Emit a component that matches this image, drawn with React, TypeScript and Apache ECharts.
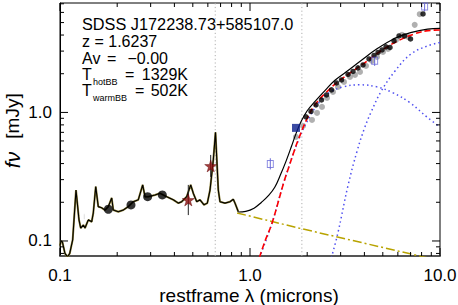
import React, { useEffect, useRef } from 'react';
import * as echarts from 'echarts';

const FONT = '"Liberation Sans", Arial, Helvetica, sans-serif';
const X_MIN = 0.1;
const X_MAX = 10;
const Y_MIN = 0.0764;
const Y_MAX = 7.1;

const X_MAJOR = [0.1, 1, 10];
const X_LABELS = ['0.1', '1.0', '10.0'];
const X_MINOR = [0.2, 0.3, 0.4, 0.5, 0.6, 0.7, 0.8, 0.9, 2, 3, 4, 5, 6, 7, 8, 9];
const Y_MAJOR = [0.1, 1];
const Y_LABELS = ['0.1', '1.0'];
const Y_MINOR = [0.08, 0.09, 0.2, 0.3, 0.4, 0.5, 0.6, 0.7, 0.8, 0.9, 2, 3, 4, 5, 6, 7];

// restframe spectrum (lambda [micron], f_nu [mJy])
const SPECTRUM = [
  [0.1, 0.092], [0.1012, 0.1], [0.103, 0.098], [0.1062, 0.08], [0.1095, 0.0752], [0.1125, 0.08],
  [0.1166, 0.102], [0.1214, 0.249], [0.1259, 0.146], [0.1285, 0.126], [0.1326, 0.133], [0.1354, 0.126],
  [0.1409, 0.146], [0.1468, 0.141], [0.1497, 0.165], [0.1542, 0.265], [0.159, 0.185], [0.1658, 0.181],
  [0.1725, 0.174], [0.1796, 0.185], [0.1871, 0.216], [0.1908, 0.174], [0.2027, 0.169], [0.2154, 0.174],
  [0.2288, 0.185], [0.243, 0.202], [0.2582, 0.209], [0.2724, 0.273], [0.2801, 0.221], [0.2915, 0.221],
  [0.3162, 0.228], [0.336, 0.235], [0.3643, 0.221], [0.3948, 0.209], [0.4195, 0.197], [0.4369, 0.202],
  [0.4643, 0.221], [0.4874, 0.273], [0.503, 0.235], [0.5243, 0.202], [0.5456, 0.209], [0.5728, 0.191],
  [0.5962, 0.197], [0.616, 0.249], [0.641, 0.427], [0.6583, 0.7], [0.681, 0.249], [0.6951, 0.202],
  [0.7385, 0.197], [0.7846, 0.202], [0.8168, 0.211], [0.8338, 0.197], [0.8678, 0.169],
];

// total model (black solid)
const MODEL = [
  [0.8678, 0.168], [0.95, 0.17], [1.05, 0.18], [1.15, 0.2], [1.25, 0.225], [1.35, 0.262], [1.45, 0.33],
  [1.55, 0.42], [1.65, 0.54], [1.75, 0.69], [1.85, 0.84], [2.0, 1.03], [2.2, 1.22], [2.5, 1.5],
  [2.8, 1.78], [3.2, 2.06], [3.8, 2.5], [4.7, 3.15], [5.8, 3.78], [7.0, 4.18], [8.6, 4.45], [10, 4.5],
];

// accretion disk power law (olive dash-dot)
const POWER_LAW = [[0.855, 0.165], [1.85, 0.125], [10, 0.0702]];

// sum of blackbodies (red dashed)
const BB_SUM = [
  [1.12, 0.074], [1.2, 0.1], [1.3, 0.135], [1.4, 0.195], [1.5, 0.28], [1.6, 0.375], [1.7, 0.49],
  [1.8, 0.62], [2.0, 0.9], [2.2, 1.15], [2.5, 1.42], [2.9, 1.73], [3.4, 2.05], [3.9, 2.36],
  [4.9, 3.02], [6.0, 3.6], [7.4, 4.1], [8.65, 4.33], [10, 4.38],
];

// hot blackbody (blue dotted)
const BB_HOT = [
  [1.12, 0.074], [1.3, 0.135], [1.5, 0.28], [1.8, 0.61], [2.1, 0.97], [2.4, 1.28], [2.64, 1.44],
  [3.09, 1.58], [3.79, 1.64], [4.66, 1.58], [5.66, 1.42], [6.95, 1.19], [8.54, 0.92], [10, 0.77],
];

// warm blackbody (blue dotted)
const BB_WARM = [
  [2.68, 0.074], [2.9, 0.115], [3.28, 0.27], [3.66, 0.5], [4.0, 0.75], [4.33, 1.0], [4.89, 1.45],
  [5.8, 2.1], [7.04, 2.85], [8.65, 3.3], [10, 3.5],
];

const LINE_MARKERS = [0.6563, 1.875];

const PHOT_UV = [[0.1796, 0.1765], [0.2364, 0.1906], [0.2893, 0.2212], [0.3455, 0.228]];
const PHOT_OPEN = [[0.1342, 0.1545]];
const PHOT_OPEN_ERR = [[0.1342, 0.146, 0.163]];
const STARS = [[0.4735, 0.2085], [0.6211, 0.3835]];
const STAR_ERR = [[0.4735, 0.159, 0.273], [0.6211, 0.315, 0.467]];
const NAVY_SQ = [[1.746, 0.758]];
const OPEN_SQ = [[1.279, 0.397], [4.53, 2.52], [8.3, 6.66]];
const OPEN_SQ_ERR = [[1.279, 0.36, 0.44], [4.53, 2.3, 2.75], [8.3, 6.1, 7.3]];

const IRS_BLACK = [
  [1.971, 0.923], [2.094, 1.018], [2.225, 1.144], [2.378, 1.251], [2.527, 1.368], [2.685, 1.497],
  [2.853, 1.696], [3.031, 1.79], [3.28, 1.975], [3.484, 2.085], [3.7, 2.22], [3.933, 2.342],
  [4.23, 2.608], [4.494, 2.777], [4.718, 2.93], [4.952, 3.064], [5.197, 3.234], [5.456, 3.205],
  [5.727, 3.601], [6.085, 3.938], [6.505, 3.938], [6.995, 3.73], [8.14, 5.84],
];
const IRS_GRAY = [
  [1.746, 0.645], [1.901, 0.785], [2.12, 0.874], [2.253, 0.991], [2.393, 1.104], [2.543, 1.297],
  [2.734, 1.444], [2.905, 1.579], [3.124, 1.727], [3.36, 1.889], [3.569, 1.958], [3.793, 2.066],
  [4.078, 2.3], [4.386, 2.517], [4.66, 2.703], [5.012, 2.957], [5.325, 3.12], [5.867, 3.666],
  [6.31, 4.01], [6.786, 3.87], [7.36, 4.8], [7.82, 5.81],
];
const GRAY_OPEN = [[8.97, 6.62]];

const STAR_PATH = 'path://M50,0 L61,35 L98,35 L68,57 L79,91 L50,70 L21,91 L32,57 L2,35 L39,35 Z';

function errRender(color: string) {
  return (params: any, api: any) => {
    const a = api.coord([api.value(0), api.value(1)]);
    const b = api.coord([api.value(0), api.value(2)]);
    return {
      type: 'line',
      shape: { x1: a[0], y1: a[1], x2: b[0], y2: b[1] },
      style: { stroke: color, lineWidth: 1 },
    };
  };
}

function txt(x: number, y: number, text: string, size: number, extra: any = {}) {
  return {
    type: 'text', x, y,
    style: { text, font: `${size}px ${FONT}`, fill: '#000', verticalAlign: 'middle', lineHeight: Math.round(size * 0.75), ...extra },
  };
}

export default function App() {
  const ref = useRef<HTMLDivElement>(null);
  useEffect(() => {
    if (!ref.current) return;
    const chart = echarts.init(ref.current, undefined, { renderer: 'svg' });

    const tickData: number[][] = [];
    X_MAJOR.forEach((v) => tickData.push([v, Y_MIN, 0, 1]));
    X_MINOR.forEach((v) => tickData.push([v, Y_MIN, 0, 0]));
    Y_MAJOR.forEach((v) => tickData.push([X_MIN, v, 1, 1]));
    Y_MINOR.forEach((v) => tickData.push([X_MIN, v, 1, 0]));

    const labelData: number[][] = [];
    X_MAJOR.forEach((v, i) => labelData.push([v, Y_MIN, 0, i]));
    Y_MAJOR.forEach((v, i) => labelData.push([X_MIN, v, 1, i]));

    const lineSeries = (data: number[][], color: string, width: number, type: any, z = 2, smooth: any = false) => ({
      type: 'line',
      data,
      showSymbol: false,
      symbol: 'none',
      smooth,
      z,
      lineStyle: { color, width, type },
      silent: true,
    });

    const option: any = {
      animation: false,
      grid: { left: 60, right: 18, top: 3, bottom: 49, show: true, borderColor: '#000', borderWidth: 1 },
      xAxis: {
        type: 'log', logBase: 10, min: X_MIN, max: X_MAX,
        axisLine: { show: true, lineStyle: { color: '#555', width: 2 } },
        axisTick: { show: false }, axisLabel: { show: false }, splitLine: { show: false },
      },
      yAxis: {
        type: 'log', logBase: 10, min: Y_MIN, max: Y_MAX,
        axisLine: { show: true, lineStyle: { color: '#000', width: 1 } },
        axisTick: { show: false }, axisLabel: { show: false }, splitLine: { show: false },
      },
      series: [
        ...LINE_MARKERS.map((v) => lineSeries([[v, Y_MIN], [v, Y_MAX]], '#b0b0b0', 1, [1.2, 2.5], 1)),
        {
          type: 'scatter', data: IRS_GRAY, symbol: 'circle', symbolSize: 6, z: 2,
          itemStyle: { color: '#9c9c9c' }, silent: true,
        },
        lineSeries(BB_HOT, '#4f4ff0', 1.5, [1.5, 3], 3, 0.4),
        lineSeries(BB_WARM, '#4f4ff0', 1.5, [1.5, 3], 3, 0.4),
        lineSeries(POWER_LAW, '#b8a300', 1.5, [9, 3, 2, 3], 3),
        lineSeries(BB_SUM, '#ff0000', 1.6, [6, 3], 4, 0.4),
        lineSeries(SPECTRUM, '#8f8236', 2, 'solid', 4),
        lineSeries(SPECTRUM, '#000000', 1.1, 'solid', 5),
        lineSeries(MODEL, '#000000', 1.2, 'solid', 5, 0.4),
        {
          type: 'custom', data: STAR_ERR, encode: { x: 0, y: [1, 2] }, renderItem: errRender('#222'), z: 6, clip: false, silent: true,
        },
        {
          type: 'custom', data: OPEN_SQ_ERR, encode: { x: 0, y: [1, 2] }, renderItem: errRender('#6a6ad8'), z: 6, clip: true, silent: true,
        },
        {
          type: 'custom', data: PHOT_OPEN_ERR, encode: { x: 0, y: [1, 2] }, renderItem: errRender('#555'), z: 6, clip: false, silent: true,
        },
        {
          type: 'scatter', data: IRS_BLACK, symbol: 'circle', symbolSize: 5.5, z: 7,
          itemStyle: { color: '#000' }, silent: true,
        },
        {
          type: 'scatter', data: PHOT_UV, symbol: 'circle', symbolSize: 9, z: 7,
          itemStyle: { color: '#000' }, silent: true,
        },
        {
          type: 'scatter', data: PHOT_OPEN, symbol: 'emptyCircle', symbolSize: 7, z: 7,
          itemStyle: { color: '#fff', borderColor: '#555', borderWidth: 0.8 }, silent: true,
        },
        {
          type: 'scatter', data: GRAY_OPEN, symbol: 'emptyCircle', symbolSize: 5, z: 7,
          itemStyle: { color: '#fff', borderColor: '#888', borderWidth: 1 }, silent: true,
        },
        {
          type: 'scatter', data: STARS, symbol: STAR_PATH, symbolSize: 12, z: 8,
          itemStyle: { color: '#8b0c0c', borderColor: '#5a0000', borderWidth: 0.5 }, silent: true,
        },
        {
          type: 'scatter', data: NAVY_SQ, symbol: 'rect', symbolSize: 8, z: 8,
          itemStyle: { color: '#0a1e8c' }, silent: true,
        },
        {
          type: 'scatter', data: OPEN_SQ, symbol: 'rect', symbolSize: [6, 7], z: 8,
          itemStyle: { color: 'rgba(255,255,255,0)', borderColor: '#6a6ad8', borderWidth: 1 }, silent: true,
        },
        {
          type: 'custom', data: tickData, z: 10, clip: false, silent: true,
          encode: { x: 0, y: 1 },
          renderItem: (params: any, api: any) => {
            const kind = api.value(2);
            const len = api.value(3) ? 8 : 4;
            const st = { stroke: '#000', lineWidth: 1 };
            if (kind === 0) {
              const v = api.value(0);
              const b = api.coord([v, Y_MIN]);
              const t = api.coord([v, Y_MAX]);
              return {
                type: 'group', children: [
                  { type: 'line', shape: { x1: b[0], y1: b[1], x2: b[0], y2: b[1] - len }, style: st },
                  { type: 'line', shape: { x1: t[0], y1: t[1], x2: t[0], y2: t[1] + len }, style: st },
                ],
              };
            }
            const v = api.value(1);
            const l = api.coord([X_MIN, v]);
            const r = api.coord([X_MAX, v]);
            return {
              type: 'group', children: [
                { type: 'line', shape: { x1: l[0], y1: l[1], x2: l[0] + len, y2: l[1] }, style: st },
                { type: 'line', shape: { x1: r[0], y1: r[1], x2: r[0] - len, y2: r[1] }, style: st },
              ],
            };
          },
        },
        {
          type: 'custom', data: labelData, z: 10, clip: false, silent: true,
          encode: { x: 0, y: 1 },
          renderItem: (params: any, api: any) => {
            const kind = api.value(2);
            const i = api.value(3);
            const p = api.coord([api.value(0), api.value(1)]);
            if (kind === 0) {
              return {
                type: 'text', x: p[0], y: p[1] + 19,
                style: { text: X_LABELS[i], font: `17px ${FONT}`, fill: '#000', align: 'center', verticalAlign: 'middle' },
              };
            }
            return {
              type: 'text', x: p[0] - 8, y: p[1],
              style: { text: Y_LABELS[i], font: `17px ${FONT}`, fill: '#000', align: 'right', verticalAlign: 'middle' },
            };
          },
        },
      ],
      graphic: [
        txt(82, 23.5, 'SDSS J172238.73+585107.0', 16.3),
        txt(82, 41, 'z = 1.6237', 16),
        txt(82, 58.5, 'Av', 16),
        txt(107, 58.5, '=', 16),
        txt(168, 58.5, '\u22120.00', 16, { align: 'right' }),
        txt(82, 74.5, 'T', 16),
        txt(93, 82, 'hotBB', 9, { lineHeight: 7 }),
        txt(125, 74.5, '=', 16),
        txt(188, 74.5, '1329K', 16, { align: 'right', lineHeight: 11 }),
        txt(82, 90.5, 'T', 16, { lineHeight: 11 }),
        txt(93, 97.5, 'warmBB', 9, { lineHeight: 7 }),
        txt(135, 90.5, '=', 16, { lineHeight: 11 }),
        txt(188, 90.5, '502K', 16, { align: 'right', lineHeight: 11 }),
        txt(249, 295, 'restframe \u03bb (microns)', 19, { align: 'center' }),
        { type: 'text', x: 12, y: 116, rotation: Math.PI / 2, style: { text: '[mJy]', font: `19px ${FONT}`, fill: '#000', align: 'center', verticalAlign: 'middle' } },
        { type: 'text', x: 12, y: 160, rotation: Math.PI / 2, style: { text: 'f\u03bd', font: `italic 21px ${FONT}`, fill: '#000', align: 'center', verticalAlign: 'middle' } },
      ],
    };
    chart.setOption(option);
    return () => chart.dispose();
  }, []);
  return <div ref={ref} style={{ width: 458, height: 305, position: 'absolute', left: 0, top: 0 }} />;
}
